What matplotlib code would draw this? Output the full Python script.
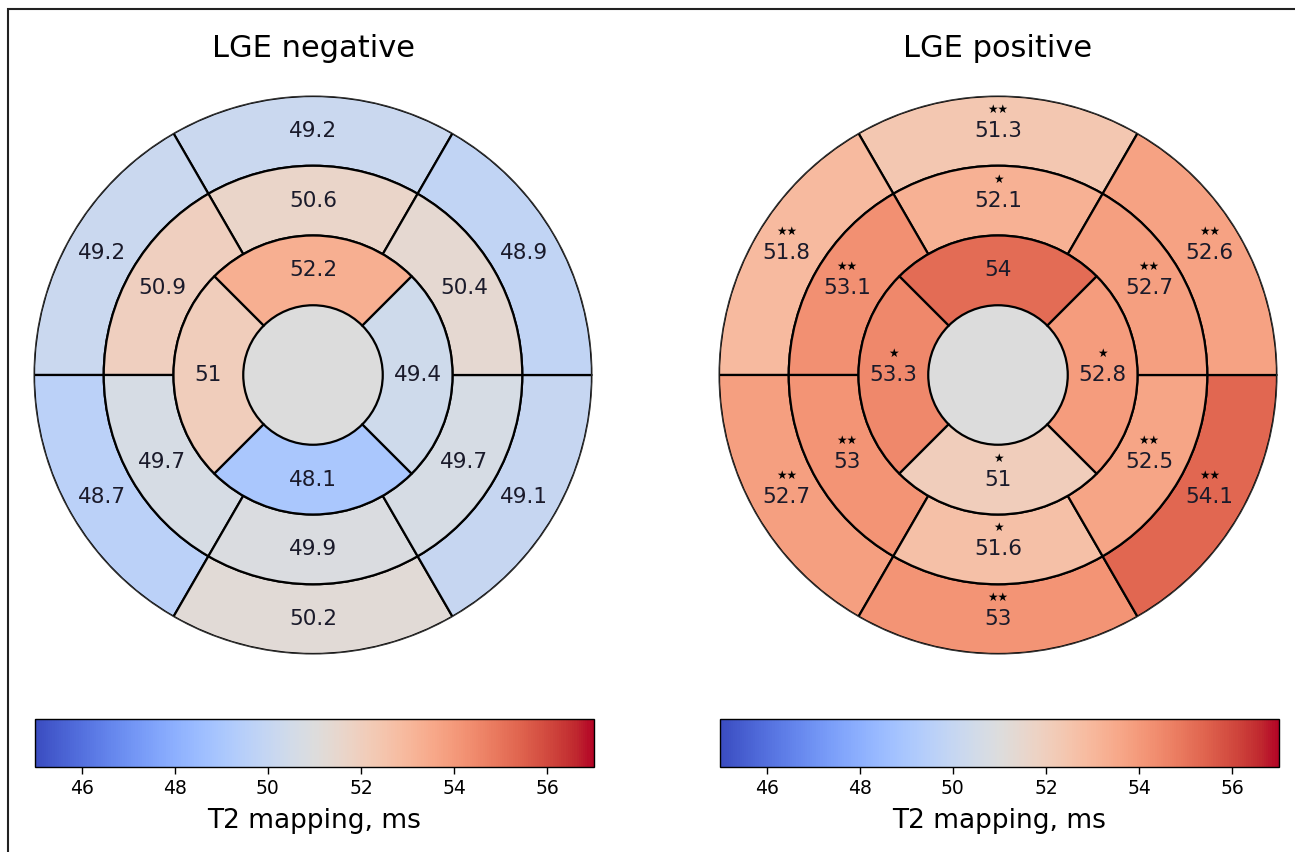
import numpy as np
import matplotlib
matplotlib.use("Agg")
import matplotlib.pyplot as plt
from matplotlib.colors import Normalize
from matplotlib.cm import ScalarMappable
from matplotlib.patches import Rectangle

titles = ["LGE negative", "LGE positive"]

# AHA order: anterior, anteroseptal, inferoseptal, inferior, inferolateral, anterolateral
neg_basal = [49.2, 49.2, 48.7, 50.2, 49.1, 48.9]
neg_mid = [50.6, 50.9, 49.7, 49.9, 49.7, 50.4]
neg_apical = [52.2, 51, 48.1, 49.4]   # anterior, septal, inferior, lateral

pos_basal = [51.3, 51.8, 52.7, 53, 54.1, 52.6]
pos_mid = [52.1, 53.1, 53, 51.6, 52.5, 52.7]
pos_apical = [54, 53.3, 51, 52.8]

pos_basal_sig = ["**", "**", "**", "**", "**", "**"]
pos_mid_sig = ["*", "**", "**", "*", "**", "**"]
pos_apical_sig = ["", "*", "*", "*"]

cbar_ticks = [46, 48, 50, 52, 54, 56]
cbar_label = "T2 mapping, ms"

cmap = plt.get_cmap("coolwarm")
seg_norm = Normalize(44.3, 55.7)
cb_norm = Normalize(45, 57)
apex_color = "#dcdcdc"

fig = plt.figure(figsize=(12.95, 8.52), dpi=100)
fig.add_artist(Rectangle((8 / 1295, -0.1), 1.2, 1.1 - 9 / 852, transform=fig.transFigure,
                         fill=False, edgecolor="#222222", linewidth=1.5))

W, H = 1295, 852
centers = [313, 998]
R = 279

six_theta = np.deg2rad([90, 150, 210, 270, 330, 30])
four_theta = np.deg2rad([90, 180, 270, 0])


def ring(ax, thetas, vals, r0, r1, sigs=None):
    width = 2 * np.pi / len(thetas)
    ax.bar(thetas, [r1 - r0] * len(thetas), width=width, bottom=r0,
           color=[cmap(seg_norm(v)) for v in vals], edgecolor="black", linewidth=1.6)
    rm = (r0 + r1) / 2
    for i, (t, v) in enumerate(zip(thetas, vals)):
        ax.text(t, rm, f"{v:g}", ha="center", va="center", fontsize=15.5, color="#1a1a2a")
        if sigs and sigs[i]:
            ax.annotate("\u2605" * len(sigs[i]), (t, rm), xytext=(0, 15.5), textcoords="offset points",
                        ha="center", va="center", fontsize=8.5, color="black")


data = [(neg_basal, neg_mid, neg_apical, None, None, None),
        (pos_basal, pos_mid, pos_apical, pos_basal_sig, pos_mid_sig, pos_apical_sig)]

for k in range(2):
    cx = centers[k]
    ax = fig.add_axes([(cx - R) / W, (H - 375 - R) / H, 2 * R / W, 2 * R / H], projection="polar")
    basal, mid, apical, sb, sm, sa = data[k]
    ax.bar(0, 0.25, width=2 * np.pi, bottom=0, color=apex_color, edgecolor="none")
    ring(ax, six_theta, basal, 0.75, 1.0, sb)
    ring(ax, six_theta, mid, 0.5, 0.75, sm)
    ring(ax, four_theta, apical, 0.25, 0.5, sa)
    ax.set_ylim(0, 1)
    ax.set_xticks([])
    ax.set_yticks([])
    ax.grid(False)
    ax.spines["polar"].set_linewidth(0.8)
    ax.spines["polar"].set_color("#333333")
    ax.set_title(titles[k], fontsize=22, pad=28)

    cax = fig.add_axes([(cx - 278) / W, (H - 767) / H, 559 / W, 48 / H])
    cb = fig.colorbar(ScalarMappable(norm=cb_norm, cmap=cmap), cax=cax, orientation="horizontal")
    cb.set_ticks(cbar_ticks)
    cb.ax.tick_params(labelsize=13.5, length=5, width=1)
    cb.outline.set_linewidth(1)
    cb.set_label(cbar_label, fontsize=19, labelpad=7)

fig.savefig("out.png", dpi=100)
